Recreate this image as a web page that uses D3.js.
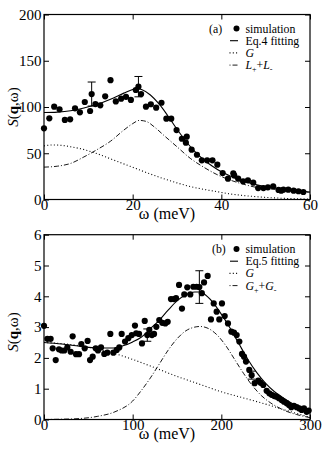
<!DOCTYPE html>
<html><head>
<meta charset="utf-8">
<script src="https://d3js.org/d3.v7.min.js"></script>
<style>
  body { margin: 0; background: white; }
  svg { display: block; }
  svg text { font-family: "Liberation Serif", "Times New Roman", "DejaVu Serif", serif; }
</style>
</head>
<body>
<svg width="331" height="451"></svg>
<script>

// ---- panel (a) data : [omega, S] ----
let simA = [[0,77],[1.2,87.8],[2.3,100.3],[3.5,97.5],[4.7,86],[5.9,86.7],[7.0,98.6],[8.1,94.2],
  [9.2,105.4],[10.4,95.7],[10.75,114],[11.6,103.2],[12.7,101.8],[13.8,111.5],[15.0,129],[16.2,106],
  [17.4,109],[18.5,111],[19.6,107.6],[20.7,118.4],[21.3,122],[21.9,114],[23.0,100.3],[24.1,103],
  [25.3,99.3],[26.5,104.6],[27.6,87.4],[28.7,87.4],[29.9,75.1],[31.1,65.7],[32.0,61.4],[32.2,67.9],
  [33.3,53.9],[34.5,48.4],[35.6,42.4],[36.8,42.4],[38.0,42.4],[39.1,37.6],[40.3,28.6],[41.5,22.5],
  [42.7,28.3],[42.9,26],[43.8,22.5],[44.9,19.6],[46.0,20.7],[47.2,18.2],[48.3,12.4],[49.5,12.4],
  [50.5,13.2],[51.7,14.3],[52.9,10.3],[53.5,9.5],[54.0,10.6],[55.1,10.6],[56.3,9.5],[57.4,8.9],[58.5,8.1]];
let errA = [[10.75,114,13],[21.3,122,11]];   // [omega, S, half-height]
let fitA = [[0,94],[3,94.5],[6,96],[9,99],[12,103],[15,108.5],[18,115],[20,119],[21,120],[22,119],
  [24,113],[26,103],[28,90],[30,76],[32,63],[34,52],[36,43],[38,36],[40,30],[42,25.5],[44,21.5],
  [46,18.5],[48,16],[50,14],[52,12.5],[54,11],[56,10],[58,9],[60,8]];
let gA = [[0,58],[2,59],[4,58.5],[6,57],[9,54],[12,49.5],[15,44],[18,38.5],[21,33],[24,27.5],[27,22.5],
  [30,18],[33,14],[36,11],[39,8.5],[42,6],[45,4.3],[48,3],[51,2],[54,1.3],[57,0.8],[60,0.5]];
let lA = [[0,35],[3,36],[6,39],[9,46],[12,54],[15,63],[18,75],[20,82],[21.5,85.5],[23,84.5],[25,78],
  [27,69.5],[30,57],[33,44.5],[36,35],[39,27],[42,21],[45,16.5],[48,13],[51,11.5],[54,10],[57,8.7],[60,7.5]];

// ---- panel (b) data ----
let simB = [[0,3.04],[3.8,2.62],[7.5,2.62],[9.8,2.31],[13.2,1.93],[16.9,2.28],[19.9,2.24],[22.9,2.24],
  [26.3,2.34],[30.1,2.2],[32.3,2.7],[36.1,2.12],[39.5,2.12],[42.1,2.45],[45.9,2.31],[49.2,2.55],
  [51.9,1.93],[54.9,2.04],[58.3,2.31],[60.9,2.24],[64.3,2.34],[68,2.13],[71.4,2.17],[74.8,2.78],
  [78.2,2.17],[82,2.26],[84.9,2.34],[87.6,2.78],[91.4,2.53],[95.1,2.64],[99,2.74],[102.6,3.05],
  [104,2.8],[107.2,2.78],[110.5,2.47],[113.6,3.2],[116.5,2.74],[118.8,2.91],[121.8,2.74],[124.1,2.78],
  [126.7,3.01],[130,3.23],[133.4,3.14],[136.8,3.12],[139.5,3.17],[143.2,3.91],[146.6,3.91],[148.9,3.94],
  [152.3,4.37],[155.6,3.6],[158.2,4.06],[161.6,4.29],[165,4.06],[168.4,4.31],[172.2,4.31],[175.2,4.3],
  [178,4.1],[180.5,4.45],[184.6,4.66],[188.3,3.25],[191.4,3.77],[194.7,3.5],[197.7,3.25],[200.7,3.77],
  [203.8,3.36],[207.5,3.12],[211.3,2.85],[214.3,2.82],[217.3,2.74],[220.3,2.53],[223.3,2.13],[225.6,2.04],
  [227.8,1.88],[231.5,1.61],[234.2,1.44],[237.6,1.18],[241.7,1.26],[244.3,1.19],[247.3,1.12],[251.1,0.93],
  [254.1,0.85],[256.8,0.8],[259.8,0.76],[262.4,0.74],[265,0.69],[268,0.63],[270.7,0.58],[273.7,0.53],
  [276.3,0.47],[278.9,0.4],[281.9,0.44],[285,0.4],[287.9,0.36],[290.6,0.31],[293.2,0.36],[296.2,0.25],[298.5,0.29]];
let errB = [[116.5,2.74,0.2],[175.2,4.3,0.53],[234.2,1.44,0.13]];
let fitB = [[0,2.5],[20,2.45],[40,2.38],[60,2.32],[80,2.32],[90,2.4],[100,2.52],[110,2.68],[120,2.95],
  [130,3.22],[140,3.55],[150,3.85],[160,4.05],[170,4.14],[175,4.14],[180,4.08],[190,3.82],[200,3.42],
  [210,2.96],[220,2.45],[230,1.95],[240,1.52],[250,1.17],[260,0.9],[270,0.7],[280,0.52],[290,0.4],[300,0.3]];
let gB = [[0,2.5],[25,2.45],[50,2.35],[75,2.18],[100,1.95],[125,1.68],[150,1.4],[175,1.15],[200,0.9],
  [225,0.7],[250,0.5],[275,0.28],[300,0.07]];
let gpmB = [[0,0],[20,0.01],[40,0.03],[60,0.1],[80,0.25],[100,0.6],[110,0.95],[120,1.35],[130,1.8],
  [140,2.25],[150,2.62],[160,2.88],[170,3.0],[176,3.02],[185,2.96],[195,2.75],[205,2.4],[215,1.95],
  [225,1.5],[235,1.1],[245,0.78],[255,0.55],[265,0.38],[275,0.25],[285,0.16],[300,0.06]];

let xTicksA = [0, 20, 40, 60], yTicksA = [0, 50, 100, 150, 200];
let xTicksB = [0, 100, 200, 300], yTicksB = [0, 1, 2, 3, 4, 5, 6];

let svg = d3.select("svg");

function panel(cfg) {
  let g = svg.append("g");
  let x = d3.scaleLinear().domain(cfg.xDom).range([44, 310]);
  let y = d3.scaleLinear().domain(cfg.yDom).range([cfg.bottom, cfg.top]);
  let fmt = d3.format("d");

  // ticks on all four sides, pointing inward
  let styleAxis = function(sel) {
    sel.attr("font-family", null);
    sel.select(".domain").remove();
    sel.selectAll("line").attr("stroke", "black").attr("stroke-width", 1);
    sel.selectAll("text").attr("font-size", 15).attr("fill", "black");
  };
  g.append("g").attr("transform", `translate(0,${cfg.bottom})`)
    .call(d3.axisBottom(x).tickValues(cfg.xTicks).tickFormat(fmt).tickSizeInner(-5).tickSizeOuter(0).tickPadding(0))
    .call(styleAxis);
  g.append("g").attr("transform", `translate(0,${cfg.top})`)
    .call(d3.axisTop(x).tickValues(cfg.xTicks).tickSizeInner(-5).tickSizeOuter(0).tickFormat(""))
    .call(styleAxis);
  g.append("g").attr("transform", "translate(44,0)")
    .call(d3.axisLeft(y).tickValues(cfg.yTicks).tickFormat(fmt).tickSizeInner(-5).tickSizeOuter(0).tickPadding(2.5))
    .call(styleAxis);
  g.append("g").attr("transform", "translate(310,0)")
    .call(d3.axisRight(y).tickValues(cfg.yTicks).tickSizeInner(-5).tickSizeOuter(0).tickFormat(""))
    .call(styleAxis);

  let line = d3.line().x(d => x(d[0])).y(d => y(d[1])).curve(d3.curveMonotoneX);
  g.append("path").datum(cfg.dotted).attr("d", line).attr("fill", "none")
    .attr("stroke", "black").attr("stroke-width", 1.1).attr("stroke-dasharray", "1,2.3");
  g.append("path").datum(cfg.dashdot).attr("d", line).attr("fill", "none")
    .attr("stroke", "black").attr("stroke-width", 0.9).attr("stroke-dasharray", "5,2,1,2");
  g.append("path").datum(cfg.fit).attr("d", line).attr("fill", "none")
    .attr("stroke", "black").attr("stroke-width", 1.1);

  // error bars
  cfg.err.forEach(function(e) {
    let eg = g.append("g").attr("stroke", "black").attr("stroke-width", 1);
    eg.append("line").attr("x1", x(e[0])).attr("x2", x(e[0])).attr("y1", y(e[1] - e[2])).attr("y2", y(e[1] + e[2]));
    [e[1] - e[2], e[1] + e[2]].forEach(v => {
      eg.append("line").attr("x1", x(e[0]) - 4).attr("x2", x(e[0]) + 4).attr("y1", y(v)).attr("y2", y(v));
    });
  });

  g.selectAll("circle.sim").data(cfg.sim).enter().append("circle")
    .attr("cx", d => x(d[0])).attr("cy", d => y(d[1])).attr("r", 3.1).attr("fill", "black");

  // frame
  g.append("rect").attr("x", 44).attr("y", cfg.top).attr("width", 266).attr("height", cfg.bottom - cfg.top)
    .attr("fill", "none").attr("stroke", "black").attr("stroke-width", 1.2);

  // axis labels
  g.append("text").attr("x", 167).attr("y", cfg.bottom + 19.5).attr("text-anchor", "middle")
    .attr("font-size", 16).text("ω (meV)");
  let yl = g.append("text").attr("transform", `translate(17.5,${cfg.ylabY}) rotate(-90)`)
    .attr("text-anchor", "middle").attr("font-size", 15);
  yl.append("tspan").attr("font-style", "italic").text("S");
  yl.append("tspan").text("(");
  yl.append("tspan").attr("font-weight", "bold").text("q");
  yl.append("tspan").text(",ω)");

  // legend
  let ly = cfg.legY, lx = 236.5, tx = 245.5, step = 12.2;
  let lg = g.append("g").attr("font-size", 11.8);
  lg.append("text").attr("x", cfg.tagX).attr("y", ly + 4).text(cfg.tag);
  lg.append("circle").attr("cx", lx).attr("cy", ly).attr("r", 3).attr("fill", "black");
  lg.append("text").attr("x", tx).attr("y", ly + 4).text("simulation");
  lg.append("line").attr("x1", 230).attr("x2", 238).attr("y1", ly + step).attr("y2", ly + step)
    .attr("stroke", "black").attr("stroke-width", 1.1);
  lg.append("text").attr("x", tx).attr("y", ly + step + 4).text(cfg.fitName);
  lg.append("line").attr("x1", 229.5).attr("x2", 238).attr("y1", ly + 2 * step).attr("y2", ly + 2 * step)
    .attr("stroke", "black").attr("stroke-width", 1.1).attr("stroke-dasharray", "1,2.3");
  lg.append("text").attr("x", tx).attr("y", ly + 2 * step + 4).attr("font-style", "italic").text("G");
  lg.append("line").attr("x1", 229.5).attr("x2", 238).attr("y1", ly + 3 * step).attr("y2", ly + 3 * step)
    .attr("stroke", "black").attr("stroke-width", 0.9).attr("stroke-dasharray", "1,2,5,2");
  let t4 = lg.append("text").attr("x", tx).attr("y", ly + 3 * step + 4);
  t4.append("tspan").attr("font-style", "italic").text(cfg.comp);
  t4.append("tspan").attr("font-size", 8).attr("dy", 3).text("+");
  t4.append("tspan").attr("dy", -3).text("+");
  t4.append("tspan").attr("font-style", "italic").text(cfg.comp);
  t4.append("tspan").attr("font-size", 8).attr("dy", 3).text("-");
}

panel({xDom: [0, 60], yDom: [0, 200], top: 14.5, bottom: 199.5, xTicks: xTicksA, yTicks: yTicksA,
  sim: simA, err: errA, fit: fitA, dotted: gA, dashdot: lA, ylabY: 107,
  legY: 28.5, tag: "(a)", tagX: 209, fitName: "Eq.4 fitting", comp: "L"});
panel({xDom: [0, 300], yDom: [0, 6], top: 234.7, bottom: 419.5, xTicks: xTicksB, yTicks: yTicksB,
  sim: simB, err: errB, fit: fitB, dotted: gB, dashdot: gpmB, ylabY: 332,
  legY: 249, tag: "(b)", tagX: 212, fitName: "Eq.5 fitting", comp: "G"});

</script>
</body>
</html>
